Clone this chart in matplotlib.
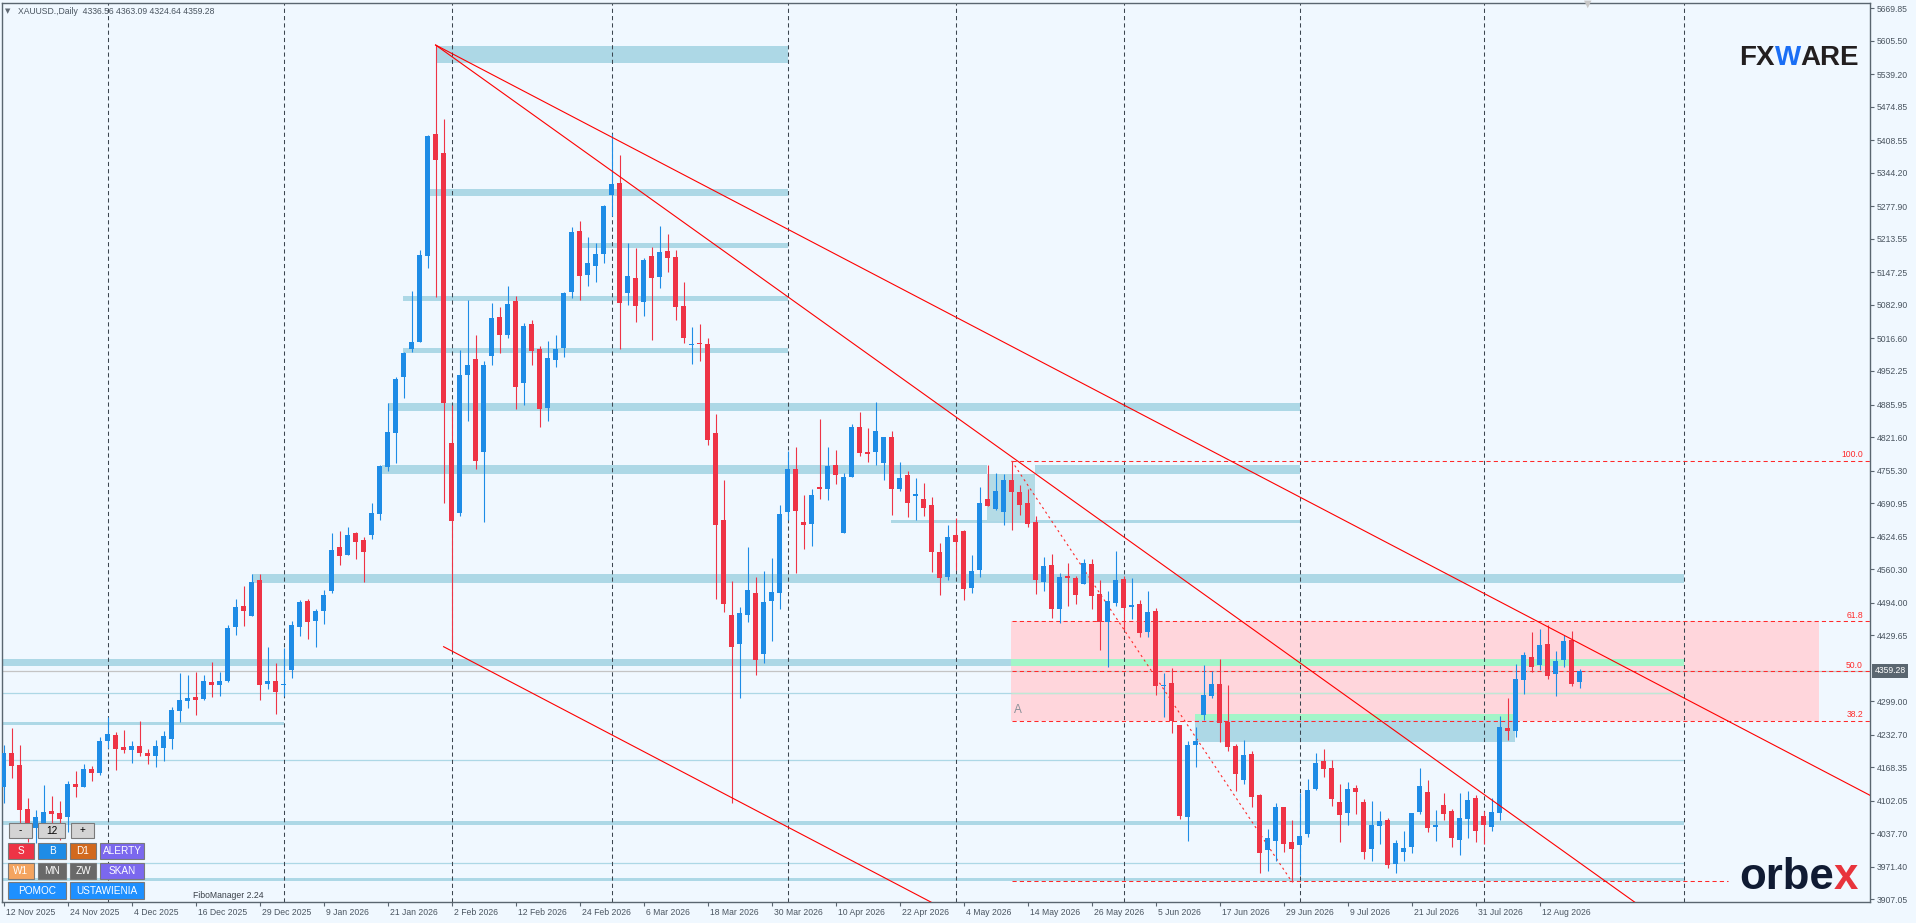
import numpy as np
import matplotlib.pyplot as plt
from matplotlib.patches import Rectangle
from matplotlib.transforms import ScaledTranslation, blended_transform_factory

W, H = 1916, 923
BG = '#f0f8ff'
AXC = '#5a6670'
TXT = '#4a5560'
BULL = '#1e8ce6'
BEAR = '#ee3446'
BAND = '#add8e6'
GREEN = '#a3f5c8'
PINK = '#ffd6dc'

plt.rcParams['font.family'] = ['Liberation Sans', 'DejaVu Sans']

# daily candles, XAUUSD (bar 0 = 12 Nov 2025)
opens = [4128.5, 4195.8, 4172.7, 4085.0, 4047.4, 4057.3, 4081.7, 4077.1, 4069.2, 4135.1,
         4129.9, 4164.8, 4157.6, 4220.9, 4232.1, 4208.3, 4203.1, 4210.3, 4196.5, 4191.2,
         4207.0, 4224.8, 4280.2, 4300.0, 4306.6, 4303.3, 4336.9, 4331.7, 4338.9, 4446.4,
         4487.3, 4468.2, 4538.8, 4333.6, 4338.9, 4330.4, 4361.4, 4446.4, 4497.2, 4458.3,
         4478.1, 4517.0, 4604.1, 4588.9, 4631.7, 4617.9, 4628.4, 4670.0, 4763.0, 4830.3,
         4941.0, 4996.4, 5010.3, 5180.4, 5421.2, 5382.9, 4809.1, 4671.9, 4944.3, 4975.3,
         4792.6, 4982.6, 5059.1, 5024.1, 5090.7, 4929.2, 5045.3, 4995.8, 4879.7, 4974.7,
         4998.4, 5109.2, 5229.2, 5142.8, 5160.7, 5184.4, 5301.1, 5324.2, 5106.6, 5136.3,
         5089.4, 5179.8, 5138.9, 5189.7, 5177.8, 5080.8, 5004.3, 5007.6, 5005.6, 4830.3,
         4657.5, 4469.5, 4412.1, 4469.5, 4512.4, 4393.0, 4497.2, 4513.7, 4674.0, 4758.4,
         4652.9, 4649.6, 4722.8, 4719.5, 4766.3, 4632.4, 4743.2, 4841.5, 4792.0, 4792.7,
         4770.9, 4821.7, 4718.8, 4746.5, 4705.6, 4699.0, 4687.2, 4594.2, 4544.7, 4627.8,
         4635.7, 4522.9, 4558.6, 4699.0, 4679.3, 4673.3, 4736.6, 4712.9, 4691.1, 4653.5,
         4534.8, 4568.4, 4481.4, 4546.7, 4542.7, 4530.9, 4570.4, 4511.1, 4455.7, 4493.3,
         4540.7, 4486.0, 4491.3, 4435.9, 4477.4, 4329.7, 4335.0, 4251.9, 4070.5, 4213.0,
         4272.3, 4309.9, 4333.0, 4257.8, 4210.3, 4143.7, 4194.5, 4113.4, 4005.2, 4023.0,
         4089.6, 4020.4, 4015.1, 4036.9, 4125.9, 4180.6, 4166.8, 4099.5, 4078.4, 4127.3,
         4099.5, 4007.2, 4052.7, 4063.9, 3977.5, 4001.3, 4011.2, 4080.4, 4119.3, 4050.7,
         4093.6, 4081.7, 4025.0, 4066.6, 4107.5, 4071.8, 4050.7, 4078.4, 4245.9, 4240.7,
         4341.6, 4386.4, 4371.3, 4412.2, 4353.5, 4381.1, 4420.1, 4336.56]
highs = [4212.3, 4245.3, 4212.3, 4106.8, 4083.7, 4133.1, 4111.4, 4101.5, 4141.1, 4160.9,
         4174.7, 4170.7, 4227.5, 4268.4, 4238.7, 4242.0, 4220.2, 4259.8, 4203.7, 4222.2,
         4240.7, 4286.8, 4355.4, 4351.4, 4356.7, 4351.4, 4376.5, 4356.7, 4449.7, 4501.2,
         4526.9, 4550.6, 4550.6, 4406.8, 4373.9, 4403.5, 4457.0, 4499.2, 4501.2, 4482.0,
         4519.0, 4631.7, 4635.0, 4643.6, 4633.0, 4623.2, 4691.1, 4766.3, 4888.3, 4941.0,
         4990.5, 5110.5, 5191.6, 5418.5, 5597.2, 5450.2, 4885.0, 4993.8, 5092.7, 5023.5,
         4972.0, 5086.1, 5078.9, 5120.4, 5100.6, 5046.6, 5053.2, 5001.7, 5011.6, 5023.5,
         5109.2, 5237.8, 5249.0, 5217.4, 5205.5, 5280.7, 5421.2, 5379.6, 5205.5, 5195.6,
         5175.8, 5197.6, 5239.1, 5223.3, 5191.6, 5128.3, 5039.3, 5045.3, 5017.5, 4867.2,
         4736.6, 4537.4, 4484.7, 4604.1, 4544.7, 4556.6, 4582.3, 4687.2, 4794.0, 4801.9,
         4706.9, 4718.8, 4857.3, 4801.9, 4796.0, 4750.5, 4847.4, 4871.2, 4839.5, 4890.9,
         4821.7, 4833.6, 4772.2, 4754.4, 4740.6, 4730.7, 4703.0, 4612.0, 4647.6, 4661.4,
         4637.7, 4588.2, 4722.8, 4766.3, 4750.5, 4748.5, 4774.2, 4726.7, 4718.8, 4665.4,
         4584.3, 4590.2, 4552.6, 4572.4, 4546.7, 4580.3, 4580.3, 4538.8, 4517.0, 4596.1,
         4546.7, 4542.7, 4499.2, 4517.0, 4483.4, 4354.8, 4364.7, 4252.5, 4220.2, 4247.9,
         4370.6, 4358.0, 4382.5, 4331.0, 4214.3, 4222.2, 4200.4, 4115.4, 4046.1, 4097.6,
         4090.0, 4063.9, 4117.4, 4145.0, 4196.5, 4205.0, 4182.6, 4135.1, 4139.1, 4133.2,
         4105.5, 4101.5, 4081.7, 4067.9, 4024.4, 4042.2, 4077.8, 4166.8, 4143.1, 4083.7,
         4117.4, 4085.7, 4117.4, 4121.3, 4113.4, 4081.7, 4107.5, 4269.7, 4305.3, 4372.6,
         4396.3, 4435.9, 4441.8, 4449.7, 4398.3, 4430.0, 4437.9, 4363.09]
lows = [4098.2, 4146.4, 4050.7, 4021.0, 4017.7, 4050.7, 4057.3, 4024.3, 4040.8, 4110.1,
        4129.0, 4141.7, 4152.9, 4205.7, 4162.8, 4195.8, 4176.0, 4190.5, 4174.7, 4169.4,
        4181.3, 4205.0, 4258.5, 4286.2, 4272.3, 4301.3, 4307.9, 4309.9, 4337.5, 4429.9,
        4447.7, 4467.0, 4301.3, 4323.1, 4274.3, 4309.9, 4345.5, 4427.9, 4422.0, 4406.8,
        4451.7, 4513.7, 4568.4, 4588.0, 4580.3, 4535.5, 4620.5, 4658.1, 4755.0, 4770.9,
        4899.5, 4989.2, 5010.0, 5156.7, 5099.3, 4690.4, 4400.3, 4665.4, 4854.0, 4759.0,
        4654.2, 4964.1, 4987.2, 5018.2, 4877.7, 4885.6, 4964.1, 4842.1, 4854.0, 4960.8,
        4980.6, 5097.3, 5092.7, 5120.4, 5128.3, 5166.6, 5259.6, 4995.8, 5082.8, 5049.2,
        5061.1, 5013.6, 5116.5, 5148.1, 5053.8, 5007.6, 4966.8, 4972.0, 4805.8, 4501.2,
        4476.1, 4098.2, 4306.0, 4455.0, 4351.5, 4374.6, 4418.7, 4481.4, 4657.5, 4553.3,
        4600.1, 4606.0, 4699.0, 4697.0, 4728.7, 4632.0, 4742.5, 4784.1, 4772.2, 4766.3,
        4736.6, 4667.4, 4714.8, 4663.4, 4657.5, 4665.4, 4554.6, 4509.1, 4538.8, 4558.6,
        4499.2, 4513.0, 4544.7, 4685.2, 4677.3, 4647.6, 4637.7, 4667.4, 4643.6, 4511.1,
        4517.0, 4463.6, 4453.7, 4487.3, 4491.3, 4530.0, 4481.4, 4400.3, 4366.6, 4487.3,
        4439.8, 4461.6, 4426.0, 4425.0, 4311.5, 4268.4, 4236.7, 4066.6, 4023.0, 4169.4,
        4261.8, 4306.0, 4218.9, 4201.1, 4122.0, 4135.8, 4090.3, 3959.7, 3963.7, 3983.5,
        4001.3, 3941.9, 3955.8, 4031.0, 4124.0, 4149.7, 4092.3, 4021.1, 4054.0, 4076.5,
        3987.4, 3983.5, 4017.1, 3969.6, 3959.7, 3983.5, 3999.3, 4076.5, 4040.8, 4023.0,
        4064.6, 4011.2, 3995.4, 4029.0, 4021.1, 4017.1, 4042.8, 4064.6, 4222.2, 4228.8,
        4313.9, 4357.4, 4361.4, 4343.6, 4309.9, 4367.3, 4329.7, 4324.64]
closes = [4195.8, 4171.4, 4083.7, 4044.1, 4069.2, 4079.1, 4076.4, 4065.2, 4135.1, 4129.9,
          4164.8, 4157.6, 4220.2, 4234.1, 4205.0, 4203.1, 4209.6, 4197.1, 4191.2, 4210.3,
          4230.1, 4281.5, 4301.3, 4305.3, 4302.0, 4338.9, 4331.7, 4338.9, 4444.4, 4484.7,
          4478.1, 4534.8, 4331.7, 4338.9, 4317.8, 4333.0, 4449.7, 4495.2, 4456.3, 4477.4,
          4509.1, 4598.1, 4586.9, 4627.8, 4613.9, 4594.8, 4671.3, 4764.3, 4830.9, 4936.4,
          4988.5, 5008.9, 5181.8, 5417.2, 5370.4, 4888.3, 4656.1, 4944.3, 4964.1, 4774.8,
          4964.1, 5057.1, 5024.1, 5084.8, 4921.2, 5041.3, 4992.5, 4877.7, 4978.0, 4995.8,
          5106.6, 5227.3, 5140.9, 5165.9, 5183.7, 5278.7, 5322.2, 5087.4, 5140.2, 5081.5,
          5171.9, 5136.9, 5187.7, 5175.8, 5079.5, 5018.2, 5006.3, 5005.6, 4816.4, 4647.6,
          4491.3, 4406.8, 4472.8, 4519.0, 4380.5, 4495.2, 4515.0, 4669.4, 4758.4, 4676.0,
          4648.2, 4706.9, 4719.5, 4764.3, 4747.2, 4742.5, 4841.5, 4790.7, 4788.7, 4833.6,
          4821.7, 4719.5, 4740.6, 4691.8, 4708.9, 4681.9, 4594.2, 4543.4, 4623.8, 4614.6,
          4521.0, 4556.6, 4691.1, 4685.2, 4714.8, 4736.6, 4712.9, 4687.2, 4649.6, 4538.8,
          4566.5, 4481.4, 4544.7, 4543.4, 4509.1, 4572.4, 4507.1, 4455.7, 4497.2, 4538.8,
          4483.4, 4489.3, 4433.9, 4475.5, 4329.1, 4331.7, 4260.5, 4072.5, 4212.3, 4220.2,
          4311.3, 4333.0, 4256.5, 4209.0, 4154.9, 4192.5, 4110.1, 3999.3, 4028.3, 4089.6,
          4017.1, 4007.2, 4032.3, 4123.3, 4176.7, 4165.5, 4106.1, 4074.5, 4125.3, 4120.0,
          4001.3, 4054.0, 4062.0, 3975.5, 4018.4, 4008.5, 4077.8, 4131.2, 4048.8, 4054.0,
          4076.5, 4029.0, 4067.9, 4103.5, 4042.8, 4054.7, 4079.8, 4247.9, 4240.7, 4342.9,
          4390.4, 4367.3, 4410.2, 4349.5, 4378.5, 4418.1, 4333.7, 4359.28]

date_labels = ['12 Nov 2025', '24 Nov 2025', '4 Dec 2025', '16 Dec 2025', '29 Dec 2025',
               '9 Jan 2026', '21 Jan 2026', '2 Feb 2026', '12 Feb 2026', '24 Feb 2026',
               '6 Mar 2026', '18 Mar 2026', '30 Mar 2026', '10 Apr 2026', '22 Apr 2026',
               '4 May 2026', '14 May 2026', '26 May 2026', '5 Jun 2026', '17 Jun 2026',
               '29 Jun 2026', '9 Jul 2026', '21 Jul 2026', '31 Jul 2026', '12 Aug 2026']
price_ticks = [5669.85, 5605.50, 5539.20, 5474.85, 5408.55, 5344.20, 5277.90, 5213.55,
               5147.25, 5082.90, 5016.60, 4952.25, 4885.95, 4821.60, 4755.30, 4690.95,
               4624.65, 4560.30, 4494.00, 4429.65, 4299.00, 4232.70, 4168.35, 4102.05,
               4037.70, 3971.40, 3907.05]
grid_bars = [13, 35, 56, 76, 98, 119, 140, 162, 185, 210]

# support / resistance zones (price low, price high, first bar, last bar)
band_lo = [5562.3, 5298.5, 5195.6, 5091.4, 4987.9, 4873.8, 4749.1, 4749.1, 4652.2,
           4533.5, 4368.6, 4252.5, 4054.6, 3942.6, 4218.9]
band_hi = [5595.3, 5312.3, 5204.8, 5100.6, 4997.1, 4888.3, 4766.3, 4766.3, 4657.5,
           4550.6, 4381.8, 4257.8, 4062.0, 3949.0, 4261.8]
band_x0 = [54, 53.3, 72, 49.9, 49.9, 48, 47.3, 128.9, 110.9, 31, -1, -1, -1, -1, 148.9]
band_x1 = [98, 98, 98, 98, 98, 162, 122.9, 162, 162, 210, 125.9, 35, 210, 210, 188.9]
green_lo = [4369.3, 4261.8]
green_hi = [4381.8, 4273.6]
green_x0 = [125.9, 148.9]
green_x1 = [210, 188.9]
box_lo, box_hi, box_x0, box_x1 = 4656.2, 4749.1, 122.96, 128.9
thin_levels = [4314.5, 4182.0, 3978.3]

# fibonacci retracement
fib_high, fib_low = 4774.5, 3942.6
fib_bar_high, fib_bar_low = 126, 161
fib_ratios = [0.0, 38.2, 50.0, 61.8, 100.0]
pink_x1 = 226.9

# trend lines: two points each
trend_pts = [((54, 5597.2), (199.55, 4392.2)),
             ((54, 5597.2), (199.55, 3950.5)),
             ((55, 4406.8), (98.5, 4046.0))]

fig = plt.figure(figsize=(W / 100, H / 100), dpi=100, facecolor=BG)
ax = fig.add_axes([2 / W, (H - 901.7) / H, 1868 / W, 899 / H], facecolor=BG)
x_max = 233.3
ax.set_xlim(-0.2, x_max)
ax.set_ylim(3902.3, 5680.9)

# zones
for lo, hi, a, b in zip(band_lo, band_hi, band_x0, band_x1):
    ax.add_patch(Rectangle((a, lo), b - a, hi - lo, fc=BAND, ec='none', zorder=1))
ax.add_patch(Rectangle((box_x0, box_lo), box_x1 - box_x0, box_hi - box_lo,
                       fc='#b4dbe6', ec='none', zorder=1))
fib_lvl = [fib_low + r / 100 * (fib_high - fib_low) for r in fib_ratios]
ax.add_patch(Rectangle((fib_bar_high - 0.1, fib_lvl[1]), pink_x1 - fib_bar_high + 0.1,
                       fib_lvl[3] - fib_lvl[1], fc=PINK, ec='none', zorder=0.9))
for lo, hi, a, b in zip(green_lo, green_hi, green_x0, green_x1):
    ax.add_patch(Rectangle((a, lo), b - a, hi - lo, fc=GREEN, ec='none', zorder=1.1))
for lvl in thin_levels:
    ax.hlines(lvl, -1, 210, color=BAND, lw=0.9, zorder=1.2)
ax.hlines(thin_levels[0], 125.9, 210, color='#bfe8d4', lw=0.9, zorder=1.25)
ax.axhline(closes[-1], color='#c4c4c4', lw=0.9, zorder=1.3)

# grid
ax.vlines(grid_bars, 3902.3, 5680.9, colors='#3c4650', lw=0.75,
          linestyles=(0, (4, 3)), zorder=1.5)

# fibo lines
for r, lvl in zip(fib_ratios, fib_lvl):
    end = 215.5 if r == 0.0 else x_max + 1
    ax.hlines(lvl, fib_bar_high, end, color='#ff2a2a', lw=0.75,
              linestyles=(0, (4, 3)), zorder=2)
ax.plot([fib_bar_high, fib_bar_low], [fib_high, fib_low], color='#ff2a2a', lw=0.8,
        ls=(0, (2, 3)), zorder=2)
tr = blended_transform_factory(ax.transAxes, ax.transData)
for r, lvl in zip(fib_ratios, fib_lvl):
    if r > 0:
        ax.text(1 - 7 / 1868, lvl + 3, f'{r:.1f}', transform=tr, ha='right', va='bottom',
                fontsize=6.2, color='#ff2a2a', zorder=5)
ax.text(126.3, 4282, 'A', fontsize=8.5, color='#8a9098', ha='left', va='center', zorder=5)

# candles
o, h, l, c = map(np.array, (opens, highs, lows, closes))
xs = np.arange(len(o))
cols = np.where(c >= o, BULL, BEAR)
ax.vlines(xs, l, h, colors=cols, lw=0.8, zorder=3)
ax.bar(xs, np.maximum(np.abs(c - o), 2.2), bottom=np.minimum(o, c), width=0.6,
       color=cols, linewidth=0, zorder=3.1)

# trend lines
for (x0, y0), (x1, y1) in trend_pts:
    k = (y1 - y0) / (x1 - x0)
    ax.plot([x0, x_max + 5], [y0, y0 + k * (x_max + 5 - x0)], color='#ff0000', lw=0.8,
            zorder=4)

# axes styling
for s in ax.spines.values():
    s.set_color(AXC)
    s.set_linewidth(1.0)
ax.yaxis.tick_right()
ax.set_yticks(price_ticks)
ax.set_yticklabels([f'{p:.2f}' for p in price_ticks])
ax.tick_params(axis='y', length=3, width=0.8, color=AXC, labelsize=6.2,
               labelcolor=TXT, pad=2)
label_bars = np.arange(len(date_labels)) * 8
ax.set_xticks(label_bars)
ax.set_xticklabels(date_labels)
ax.tick_params(axis='x', length=3, width=0.8, color=AXC, labelsize=6.2,
               labelcolor=TXT, pad=1.5)
shift = ScaledTranslation(1.5 / 72, 0, fig.dpi_scale_trans)
for lbl in ax.get_xticklabels():
    lbl.set_horizontalalignment('left')
    lbl.set_transform(lbl.get_transform() + shift)

ax.text(1 + 4.5 / 1868, closes[-1], f'{closes[-1]:.2f}', transform=tr, ha='left',
        va='center', fontsize=6.2, color='white', clip_on=False, zorder=10,
        bbox=dict(boxstyle='square,pad=0.3', fc=AXC, ec='none'))


def fx(px):
    return px / W


def fy(py):
    return 1 - py / H


# header
fig.text(fx(5), fy(11), '\u25bc', fontsize=5, color='#606a74', va='center',
         family=['DejaVu Sans'])
fig.text(fx(18), fy(11), 'XAUUSD.,Daily  4336.56 4363.09 4324.64 4359.28',
         fontsize=6.2, color=TXT, va='center')
fig.text(fx(1588), fy(4), '\u25bc', fontsize=7, color='#c8c8c8', ha='center',
         va='center', family=['DejaVu Sans'])

# buttons
buttons = [('-', '#d4d4d4', 'black', 9, 823, 23, 15),
           ('12', '#d4d4d4', 'black', 38, 823, 27, 15),
           ('+', '#d4d4d4', 'black', 71, 823, 23, 15),
           ('S', '#ee3446', 'white', 8, 843, 26, 16),
           ('B', '#1e8ce6', 'white', 38, 843, 28, 16),
           ('D1', '#d2691e', 'white', 70, 843, 26, 16),
           ('ALERTY', '#7b68ee', 'white', 100, 843, 44, 16),
           ('W1', '#f4a460', 'white', 8, 863, 26, 16),
           ('MN', '#696969', 'white', 38, 863, 28, 16),
           ('ZW', '#696969', 'white', 70, 863, 26, 16),
           ('SKAN', '#7b68ee', 'white', 100, 863, 44, 16),
           ('POMOC', '#1e90ff', 'white', 8, 882, 58, 17),
           ('USTAWIENIA', '#1e90ff', 'white', 70, 882, 74, 17)]
for lab, fc, tc, x0, y0, w, hh in buttons:
    fig.add_artist(Rectangle((fx(x0), fy(y0 + hh)), w / W, hh / H,
                             transform=fig.transFigure, fc=fc, ec='#7a7a7a',
                             lw=0.8, zorder=10))
    fig.text(fx(x0 + w / 2), fy(y0 + hh / 2), lab, ha='center', va='center',
             color=tc, fontsize=7.2, zorder=11)
fig.text(fx(193), fy(895), 'FiboManager 2.24', fontsize=6.2, color='#3a4048',
         va='center')

# logos
renderer = fig.canvas.get_renderer()


def chain(parts, x_px, y_px, **kw):
    x = x_px
    for s, col in parts:
        t = fig.text(fx(x), fy(y_px), s, color=col, va='baseline', **kw)
        x += t.get_window_extent(renderer).width


chain([('FX', '#231f20'), ('W', '#1a6ef5'), ('ARE', '#231f20')], 1739, 65,
      fontsize=20, fontweight='bold')
chain([('orbe', '#101b33'), ('x', '#e8343c')], 1739, 889, fontsize=31.5,
      fontweight='bold')

fig.savefig('out.png', dpi=100, facecolor=BG)
